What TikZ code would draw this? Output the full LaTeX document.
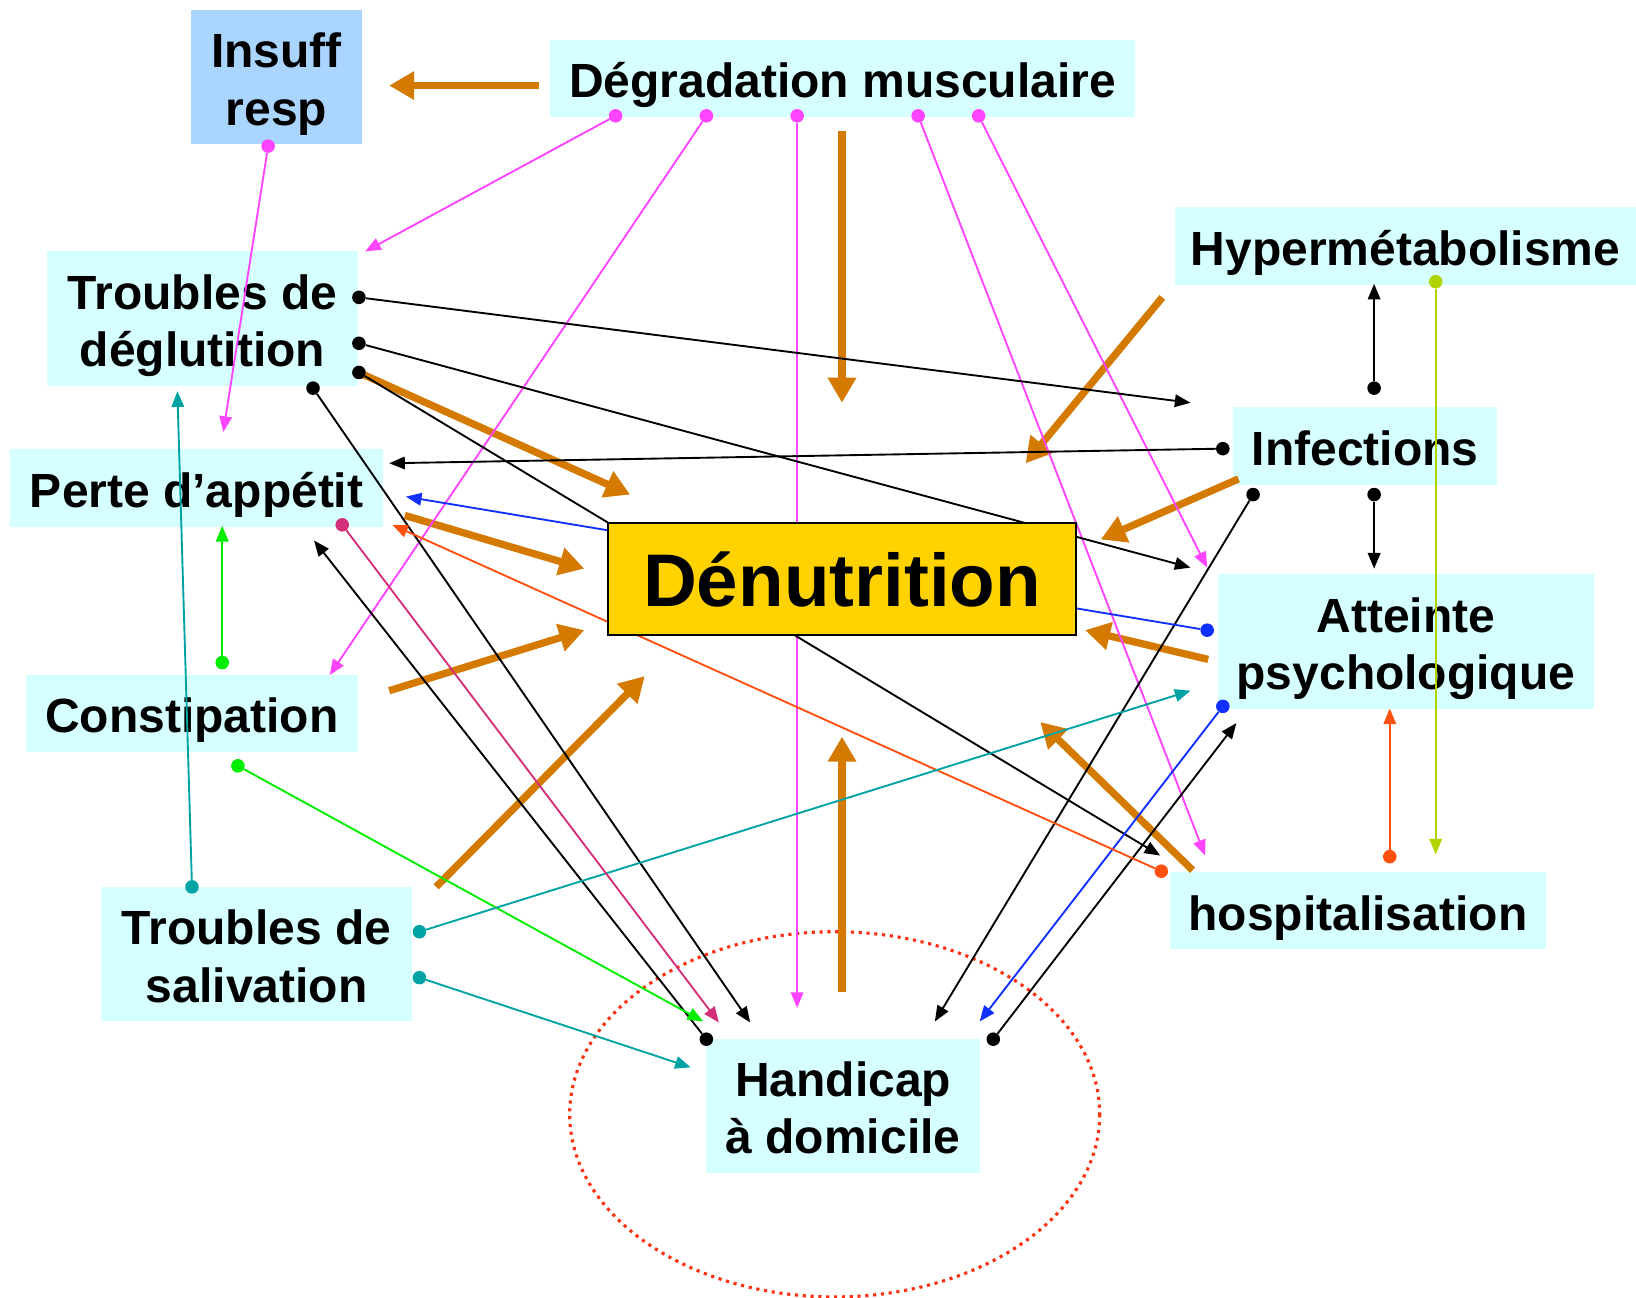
\documentclass[tikz,border=0pt]{standalone}
\usepackage{fontspec}
\setmainfont{Liberation Sans}
\usetikzlibrary{arrows.meta}
\definecolor{boxcyan}{RGB}{214,255,255}
\definecolor{boxblue}{RGB}{170,213,255}
\definecolor{gold}{RGB}{255,210,0}
\definecolor{ora}{RGB}{212,122,0}
\definecolor{mag}{RGB}{255,68,255}
\definecolor{blu}{RGB}{16,48,255}
\definecolor{redor}{RGB}{255,80,16}
\definecolor{limeg}{RGB}{176,212,0}
\definecolor{grn}{RGB}{0,238,0}
\definecolor{tealc}{RGB}{0,163,163}
\definecolor{crim}{RGB}{212,48,122}
\definecolor{dotred}{RGB}{255,48,16}

\begin{document}
\begin{tikzpicture}[x=1pt, y=-1pt,
  font=\fontsize{46}{55}\selectfont\bfseries,
  box/.style={fill=boxcyan, align=center, inner sep=0pt,
    execute at begin node={\rule{0pt}{49pt}},
    execute at end node={\rule[-12pt]{0pt}{12pt}}},
  tall/.style={execute at begin node={\rule{0pt}{104pt}}},
  dot/.style={circle, fill=#1, inner sep=0pt, minimum size=13pt},
  link/.style={draw=#1, line width=1.8pt, -{Triangle[length=15pt,width=12pt]}},
  big/.style={draw=ora, line width=7pt, -{Triangle[length=24pt,width=26pt]}}]
\useasboundingbox (0,0) rectangle (1568,1244);

\node[box, tall, fill=boxblue, minimum width=164pt, minimum height=128pt] (insuff) at (265,74) {Insuff\\resp};
\node[box, minimum width=561pt, minimum height=74pt] (degr) at (807.5,75) {Dégradation musculaire};
\node[box, minimum width=442pt, minimum height=75pt] (hyper) at (1347,235.5) {Hypermétabolisme};
\node[box, tall, minimum width=298pt, minimum height=129pt] (deglu) at (194,305.5) {Troubles de\\déglutition};
\node[box, minimum width=357pt, minimum height=75pt] (perte) at (188.5,467.5) {Perte d’appétit};
\node[box, minimum width=253pt, minimum height=75pt] (infec) at (1308.5,427.5) {Infections};
\node[box, tall, minimum width=361pt, minimum height=130pt] (psy) at (1347.5,615) {Atteinte\\psychologique};
\node[box, minimum width=318pt, minimum height=74pt] (consti) at (184,684) {Constipation};
\node[box, tall, minimum width=298pt, minimum height=129pt] (saliv) at (246,914.5) {Troubles de\\salivation};
\node[box, minimum width=361pt, minimum height=74pt] (hospi) at (1301.5,873) {hospitalisation};
\node[box, tall, minimum width=262pt, minimum height=128pt] (handi) at (808,1060) {Handicap\\à domicile};
\draw[dotred, line width=3pt, dash pattern=on 3pt off 4.5pt] (800,1068) ellipse [x radius=254, y radius=175];

% thick arrows
\coordinate (o1a) at (517,82);   \coordinate (o1b) at (373,82);
\coordinate (o2a) at (807,126);  \coordinate (o2b) at (807,386);
\coordinate (o3a) at (1114,285); \coordinate (o3b) at (983,444);
\coordinate (o4a) at (1187,459); \coordinate (o4b) at (1055,517);
\coordinate (o5a) at (1158,632); \coordinate (o5b) at (1040,604);
\coordinate (o6a) at (1143,834); \coordinate (o6b) at (997,692);
\coordinate (o7a) at (807,951);  \coordinate (o7b) at (807,706);
\coordinate (o8a) at (418,850);  \coordinate (o8b) at (618,648);
\coordinate (o9a) at (373,662);  \coordinate (o9b) at (560,604);
\coordinate (o10a) at (388,494); \coordinate (o10b) at (560,545);
\coordinate (o11a) at (346,358); \coordinate (o11b) at (604,474);
\foreach \i in {1,...,11}
  \draw[big] (o\i a) -- (o\i b);

% links
\node[dot=mag] (dg1) at (590,111) {};  \coordinate (dg1e) at (350,241);
\node[dot=mag] (dg2) at (677,111) {};  \coordinate (dg2e) at (316,647);
\node[dot=mag] (dg3) at (764,111) {};  \coordinate (dg3e) at (764,966);
\node[dot=mag] (dg4) at (880,111) {};  \coordinate (dg4e) at (1155,820);
\node[dot=mag] (dg5) at (938,111) {};  \coordinate (dg5e) at (1157,544);
\node[dot=mag] (in1) at (257,140) {};  \coordinate (in1e) at (214,414);
\draw[link=mag] (dg1) -- (dg1e);
\draw[link=mag] (dg2) -- (dg2e);
\draw[link=mag] (dg3) -- (dg3e);
\draw[link=mag] (dg4) -- (dg4e);
\draw[link=mag] (dg5) -- (dg5e);
\draw[link=mag] (in1) -- (in1e);

\node[dot=black] (de1) at (344,285) {}; \coordinate (de1e) at (1141,386);
\node[dot=black] (de2) at (344,329) {}; \coordinate (de2e) at (1141,544);
\node[dot=black] (de3) at (344,357) {}; \coordinate (de3e) at (1112,820);
\node[dot=black] (de4) at (300,372) {}; \coordinate (de4e) at (719,980);
\node[dot=black] (ha1) at (677,996) {}; \coordinate (ha1e) at (301,518);
\node[dot=black] (ha2) at (952,996) {}; \coordinate (ha2e) at (1185,693);
\node[dot=black] (if1) at (1172,430) {}; \coordinate (if1e) at (373,444);
\node[dot=black] (if2) at (1201,474) {}; \coordinate (if2e) at (896,979);
\node[dot=black] (if3) at (1317,372) {}; \coordinate (if3e) at (1317,272);
\node[dot=black] (if4) at (1317,474) {}; \coordinate (if4e) at (1317,545);
\draw[link=black] (de1) -- (de1e);
\draw[link=black] (de2) -- (de2e);
\draw[link=black] (de3) -- (de3e);
\draw[link=black] (de4) -- (de4e);
\draw[link=black] (ha1) -- (ha1e);
\draw[link=black] (ha2) -- (ha2e);
\draw[link=black] (if1) -- (if1e);
\draw[link=black] (if2) -- (if2e);
\draw[link=black] (if3) -- (if3e);
\draw[link=black] (if4) -- (if4e);

\node[dot=blu] (ps1) at (1157,604) {}; \coordinate (ps1e) at (389,476);
\node[dot=blu] (ps2) at (1172,677) {}; \coordinate (ps2e) at (939,979);
\draw[link=blu] (ps1) -- (ps1e);
\draw[link=blu] (ps2) -- (ps2e);

\node[dot=redor] (ho1) at (1113,835) {}; \coordinate (ho1e) at (376,503);
\node[dot=redor] (ho2) at (1332,821) {}; \coordinate (ho2e) at (1332,679);
\draw[link=redor] (ho1) -- (ho1e);
\draw[link=redor] (ho2) -- (ho2e);

\node[dot=limeg] (hy1) at (1376,270) {}; \coordinate (hy1e) at (1376,819);
\draw[link=limeg] (hy1) -- (hy1e);

\node[dot=grn] (co1) at (213,635) {}; \coordinate (co1e) at (213,504);
\node[dot=grn] (co2) at (228,734) {}; \coordinate (co2e) at (674,979);
\draw[link=grn] (co1) -- (co1e);
\draw[link=grn] (co2) -- (co2e);

\node[dot=tealc] (sa1) at (184,850) {}; \coordinate (sa1e) at (170,375);
\node[dot=tealc] (sa2) at (402,893) {}; \coordinate (sa2e) at (1141,662);
\node[dot=tealc] (sa3) at (402,937) {}; \coordinate (sa3e) at (662,1023);
\draw[link=tealc] (sa1) -- (sa1e);
\draw[link=tealc] (sa2) -- (sa2e);
\draw[link=tealc] (sa3) -- (sa3e);

\node[dot=crim] (pe1) at (328,503) {}; \coordinate (pe1e) at (689,980);
\draw[link=crim] (pe1) -- (pe1e);

\node[draw=black, line width=2pt, fill=gold, minimum width=448pt, minimum height=107pt,
  inner sep=0pt, font=\fontsize{71.5}{80}\selectfont\bfseries] (denut) at (807,555) {Dénutrition};

\end{tikzpicture}
\end{document}
